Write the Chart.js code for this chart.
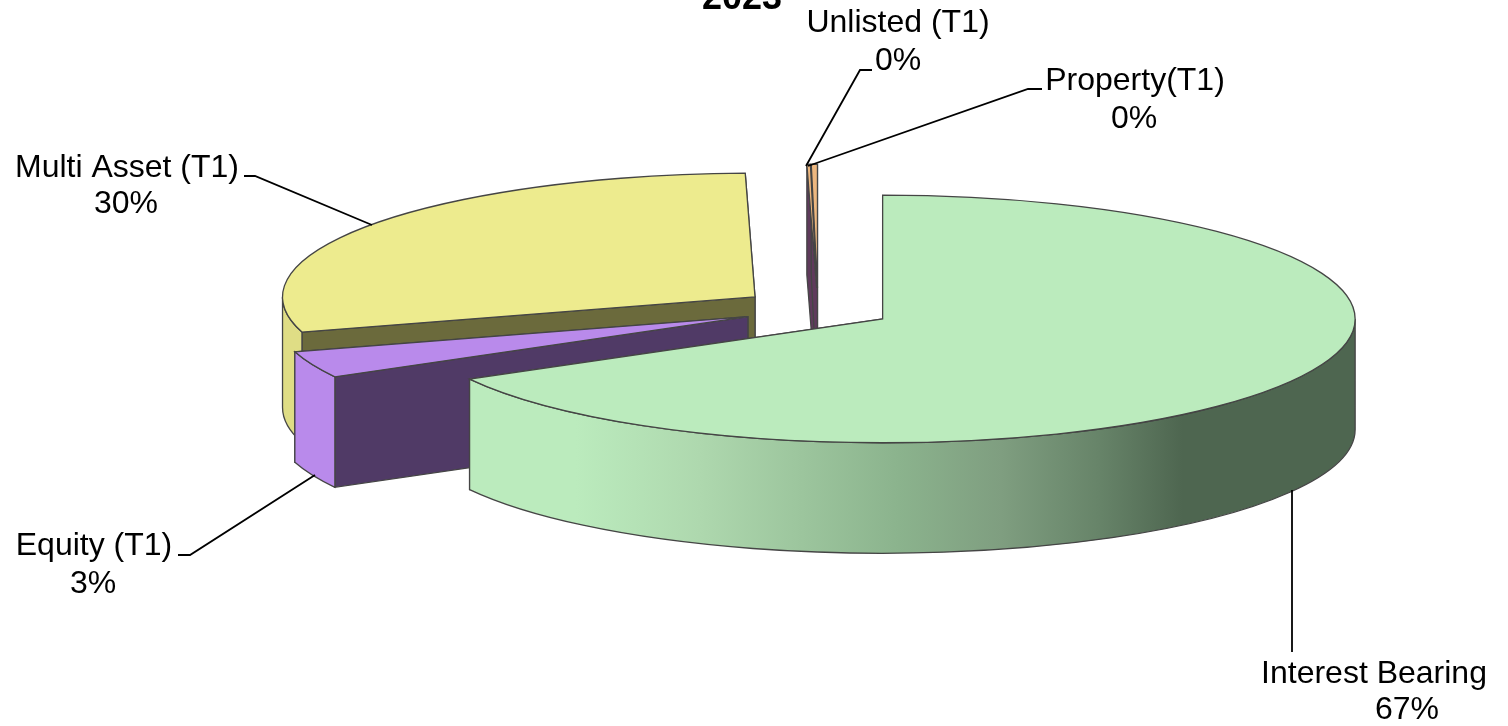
<!DOCTYPE html>
<html>
<head>
<meta charset="utf-8">
<script src="https://cdn.jsdelivr.net/npm/chart.js@4"></script>
<style>
  html, body { margin: 0; padding: 0; background: #fff; overflow: hidden; }
  canvas { display: block; }
</style>
</head>
<body>
<canvas id="assetChart" width="1508" height="726"></canvas>
<script>
const titleText = "2023";
const categories = ["Interest Bearing", "Equity (T1)", "Multi Asset (T1)", "Unlisted (T1)", "Property(T1)"];
const shares = [66.93, 3.49, 29.25, 0.12, 0.21];
const percentLabels = ["67%", "3%", "30%", "0%", "0%"];

const topColors = ["#BBEBBD", "#B98AEB", "#EDEB8E", "#EDB77F", "#EDB77F"];
const faceColors = ["#BBEBBD", "#503A66", "#6B6A3C", "#5F3A5C", "#5F3A5C"];
const wallColors = ["#BBEBBD", "#B98AEB", "#DFDD85", "#EDB77F", "#EDB77F"];
const explode = [75, 76, 78, 80, 80];
const drawOrder = [2, 3, 4, 1, 0];

const SQUASH = 0.262;
const DEPTH = 110.5;
const FONT = '32px "Liberation Sans", Arial, sans-serif';
const EDGE = "#454545";

// label centres, baselines, leader points
const labelSpots = [
  { cx: 1374, cx2: 1407, y1: 683, y2: 719, line: [[1292, 490], [1292, 652]] },
  { cx: 94, cx2: 93, y1: 555, y2: 593, line: [[315, 475], [190, 555], [178, 555]] },
  { cx: 127, cx2: 126, y1: 177, y2: 213, line: [[372, 225], [255, 176], [244, 176]] },
  { cx: 898, cx2: 898, y1: 32, y2: 70, line: [[806, 166], [860, 70], [872, 70]] },
  { cx: 1135, cx2: 1134, y1: 90, y2: 128, line: [[808, 166], [1028, 89], [1042, 89]] }
];

function sliceShift(arc, i) {
  const mid = (arc.startAngle + arc.endAngle) / 2;
  return { dx: Math.cos(mid) * explode[i], dy: Math.sin(mid) * explode[i] };
}

function slicePos(arc, i, angle) {
  const s = sliceShift(arc, i);
  const cx = arc.x + s.dx;
  const cy = arc.y + s.dy * SQUASH;
  if (angle === null) return { x: cx, y: cy };
  return {
    x: cx + Math.cos(angle) * arc.outerRadius,
    y: cy + Math.sin(angle) * arc.outerRadius * SQUASH
  };
}

function drawFace(ctx, arc, i, angle) {
  const a = slicePos(arc, i, angle);
  const b = slicePos(arc, i, null);
  ctx.beginPath();
  ctx.moveTo(a.x, a.y);
  ctx.lineTo(b.x, b.y);
  ctx.lineTo(b.x, b.y + DEPTH);
  ctx.lineTo(a.x, a.y + DEPTH);
  ctx.closePath();
  ctx.fillStyle = faceColors[i];
  ctx.fill();
  ctx.stroke();
}

function drawWall(ctx, arc, i, fill) {
  const from = Math.max(arc.startAngle, 0);
  const to = Math.min(arc.endAngle, Math.PI);
  if (to <= from) return;
  const c = slicePos(arc, i, null);
  const r = arc.outerRadius;
  ctx.beginPath();
  ctx.ellipse(c.x, c.y, r, r * SQUASH, 0, from, to);
  ctx.ellipse(c.x, c.y + DEPTH, r, r * SQUASH, 0, to, from, true);
  ctx.closePath();
  ctx.fillStyle = fill;
  ctx.fill();
  ctx.stroke();
}

const pie3d = {
  id: "pie3d",
  beforeDatasetDraw(chart) {
    const ctx = chart.ctx;
    const arcs = chart.getDatasetMeta(0).data;

    // side walls first, everything else sits on top
    ctx.save();
    ctx.strokeStyle = EDGE;
    ctx.lineWidth = 1.3;
    drawOrder.forEach(i => {
      const arc = arcs[i];
      drawFace(ctx, arc, i, arc.endAngle);
      drawFace(ctx, arc, i, arc.startAngle);
      let fill = wallColors[i];
      if (i === 0) {
        const g = ctx.createLinearGradient(slicePos(arc, i, arc.endAngle).x, 0, slicePos(arc, i, 0).x, 0);
        g.addColorStop(0, "#BBEBBD");
        g.addColorStop(0.12, "#BBEBBD");
        g.addColorStop(0.26, "#AED8AE");
        g.addColorStop(0.485, "#8BB38D");
        g.addColorStop(0.6, "#7F9E80");
        g.addColorStop(0.71, "#678469");
        g.addColorStop(0.805, "#4E6650");
        g.addColorStop(1, "#4E6650");
        fill = g;
      }
      drawWall(ctx, arc, i, fill);
    });
    ctx.restore();

    // top faces: the library's own arcs, moved out and squashed flat
    drawOrder.forEach(i => {
      const arc = arcs[i];
      const s = sliceShift(arc, i);
      ctx.save();
      ctx.translate(s.dx, arc.y + s.dy * SQUASH);
      ctx.scale(1, SQUASH);
      ctx.translate(0, -arc.y);
      arc.draw(ctx, chart.chartArea);
      ctx.restore();
    });

    ctx.save();
    ctx.strokeStyle = EDGE;
    ctx.lineWidth = 1.3;
    drawOrder.forEach(i => {
      const arc = arcs[i];
      const c = slicePos(arc, i, null);
      const r = arc.outerRadius;
      ctx.beginPath();
      ctx.moveTo(c.x, c.y);
      ctx.ellipse(c.x, c.y, r, r * SQUASH, 0, arc.startAngle, arc.endAngle);
      ctx.closePath();
      ctx.stroke();
    });
    ctx.restore();
    return false;
  },
  afterDatasetsDraw(chart) {
    const ctx = chart.ctx;
    ctx.save();
    ctx.strokeStyle = "#000";
    ctx.lineWidth = 1.8;
    ctx.fillStyle = "#000";
    ctx.textAlign = "center";
    ctx.font = FONT;
    categories.forEach((name, i) => {
      const spot = labelSpots[i];
      ctx.beginPath();
      spot.line.forEach((p, k) => k ? ctx.lineTo(p[0], p[1]) : ctx.moveTo(p[0], p[1]));
      ctx.stroke();
      ctx.fillText(name, spot.cx, spot.y1);
      ctx.fillText(percentLabels[i], spot.cx2, spot.y2);
    });
    ctx.font = 'bold 36px "Liberation Sans", Arial, sans-serif';
    ctx.fillText(titleText, 742, 9);
    ctx.restore();
  }
};

new Chart(document.getElementById("assetChart"), {
  type: "pie",
  data: {
    labels: categories,
    datasets: [{
      data: shares,
      backgroundColor: topColors,
      borderWidth: 0,
      clip: false
    }]
  },
  options: {
    responsive: false,
    animation: false,
    radius: 472.5,
    layout: { padding: { left: 128, bottom: 108 } },
    plugins: { legend: { display: false }, tooltip: { enabled: false } }
  },
  plugins: [pie3d]
});
</script>
</body>
</html>
